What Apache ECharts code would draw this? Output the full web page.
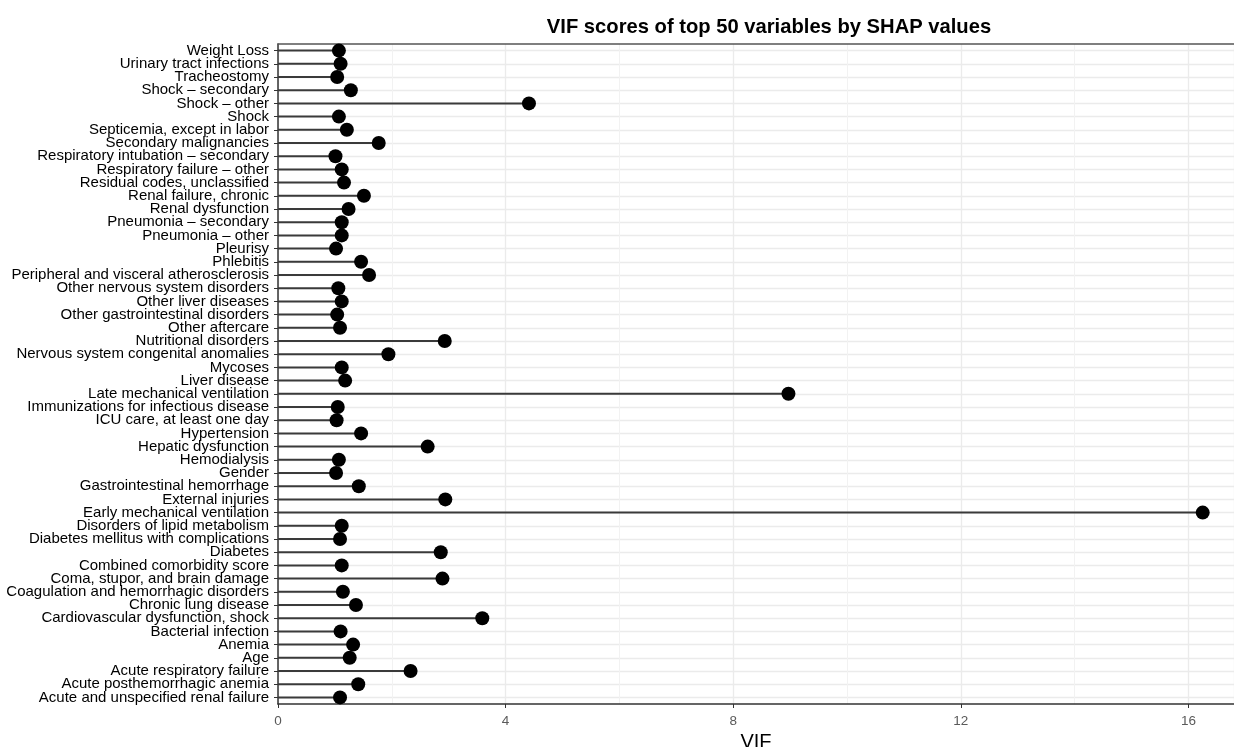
<!DOCTYPE html>
<html>
<head>
<meta charset="utf-8">
<title>VIF scores</title>
<script src="https://cdn.jsdelivr.net/npm/echarts@6/dist/echarts.min.js"></script>
<style>
    html, body { margin: 0; padding: 0; background: #fff; }
    #chart { width: 1234px; height: 747px; }
</style>
</head>
<body>
<div id="chart"></div>
<script>
// variables, top to bottom as in the figure
var variables = [
    'Weight Loss', 'Urinary tract infections', 'Tracheostomy', 'Shock \u2013 secondary',
    'Shock \u2013 other', 'Shock', 'Septicemia, except in labor', 'Secondary malignancies',
    'Respiratory intubation \u2013 secondary', 'Respiratory failure \u2013 other',
    'Residual codes, unclassified', 'Renal failure, chronic', 'Renal dysfunction',
    'Pneumonia \u2013 secondary', 'Pneumonia \u2013 other', 'Pleurisy', 'Phlebitis',
    'Peripheral and visceral atherosclerosis', 'Other nervous system disorders',
    'Other liver diseases', 'Other gastrointestinal disorders', 'Other aftercare',
    'Nutritional disorders', 'Nervous system congenital anomalies', 'Mycoses',
    'Liver disease', 'Late mechanical ventilation', 'Immunizations for infectious disease',
    'ICU care, at least one day', 'Hypertension', 'Hepatic dysfunction', 'Hemodialysis',
    'Gender', 'Gastrointestinal hemorrhage', 'External injuries',
    'Early mechanical ventilation', 'Disorders of lipid metabolism',
    'Diabetes mellitus with complications', 'Diabetes', 'Combined comorbidity score',
    'Coma, stupor, and brain damage', 'Coagulation and hemorrhagic disorders',
    'Chronic lung disease', 'Cardiovascular dysfunction, shock', 'Bacterial infection',
    'Anemia', 'Age', 'Acute respiratory failure', 'Acute posthemorrhagic anemia',
    'Acute and unspecified renal failure'
];

var vifScores = [
    1.07, 1.10, 1.04, 1.28, 4.41, 1.07, 1.21, 1.77, 1.01, 1.12,
    1.16, 1.51, 1.24, 1.12, 1.12, 1.02, 1.46, 1.60, 1.06, 1.12,
    1.04, 1.09, 2.93, 1.94, 1.12, 1.18, 8.97, 1.05, 1.03, 1.46,
    2.63, 1.07, 1.02, 1.42, 2.94, 16.25, 1.12, 1.09, 2.86, 1.12,
    2.89, 1.14, 1.37, 3.59, 1.10, 1.32, 1.26, 2.33, 1.41, 1.09
];

var xTicks = [0, 4, 8, 12, 16];

var chart = echarts.init(document.getElementById('chart'));

var option = {
    animation: false,
    backgroundColor: '#ffffff',
    textStyle: { fontFamily: 'Liberation Sans, Arial, sans-serif' },
    title: {
        text: 'VIF scores of top 50 variables by SHAP values',
        left: 764,
        textAlign: 'center',
        top: 12,
        textStyle: { fontSize: 20.2, fontWeight: 'bold', color: '#000' }
    },
    grid: { left: 278, right: 0, top: 44, bottom: 43, outerBoundsMode: 'none', containLabel: false },
    xAxis: [{
        type: 'value',
        min: 0,
        max: 16.8,
        interval: 4,
        name: 'VIF',
        nameLocation: 'middle',
        nameGap: 26,
        nameTextStyle: { fontSize: 20, color: '#000' },
        axisLine: { show: true, lineStyle: { color: '#333', width: 1.5 } },
        axisTick: { show: true, length: 4, lineStyle: { color: '#333' } },
        axisLabel: {
            color: '#5a5a5a', fontSize: 13.5, margin: 10, showMaxLabel: false,
            formatter: function (v) { return xTicks.indexOf(v) >= 0 ? String(v) : ''; }
        },
        splitLine: { show: true, lineStyle: { color: '#ebebeb', width: 1.3 } },
        minorTick: { show: false, splitNumber: 2 },
        minorSplitLine: { show: true, lineStyle: { color: '#f2f2f2', width: 1 } }
    }, {
        type: 'value',
        position: 'top',
        min: 0,
        max: 16.8,
        axisLine: { show: true, lineStyle: { color: '#555', width: 1.5 } },
        axisTick: { show: false },
        axisLabel: { show: false },
        splitLine: { show: false }
    }],
    yAxis: {
        type: 'category',
        data: variables,
        inverse: true,
        axisLine: { show: true, lineStyle: { color: '#333', width: 1.5 } },
        axisTick: { show: true, interval: 0, length: 4, alignWithLabel: true, lineStyle: { color: '#333' } },
        axisLabel: { interval: 0, color: '#000', fontSize: 15, margin: 9 },
        splitLine: { show: true, interval: 0, alignWithLabel: true, lineStyle: { color: '#ebebeb', width: 1.3 } }
    },
    series: [{
        name: 'stick',
        type: 'bar',
        data: vifScores,
        barWidth: 2,
        itemStyle: { color: '#3a3a3a' },
        z: 2
    }, {
        name: 'VIF',
        type: 'scatter',
        data: vifScores,
        symbol: 'circle',
        symbolSize: 14,
        itemStyle: { color: '#000', opacity: 1 },
        z: 3
    }]
};

chart.setOption(option);
</script>
</body>
</html>
